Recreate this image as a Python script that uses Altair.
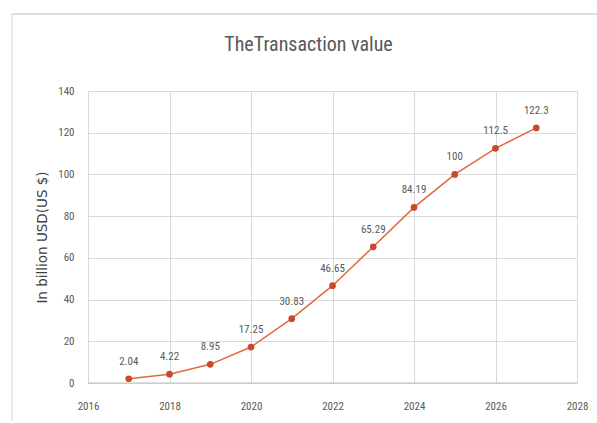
import altair as alt
import pandas as pd

years = [2017, 2018, 2019, 2020, 2021, 2022, 2023, 2024, 2025, 2026, 2027]
values = [2.04, 4.22, 8.95, 17.25, 30.83, 46.65, 65.29, 84.19, 100, 112.5, 122.3]
labels = ["2.04", "4.22", "8.95", "17.25", "30.83", "46.65", "65.29", "84.19", "100", "112.5", "122.3"]

df = pd.DataFrame({"year": years, "value": values, "label": labels})

FONT = "Liberation Sans Narrow, Roboto Condensed, Liberation Sans, sans-serif"

x = alt.X("year:Q", scale=alt.Scale(domain=[2016, 2028], nice=False, zero=False),
          axis=alt.Axis(values=[2016, 2018, 2020, 2022, 2024, 2026, 2028], format="d",
                        title=None, ticks=False, domain=False, labelPadding=17,
                        labelFont=FONT, labelFontSize=11, labelColor="#595959",
                        gridColor="#d9d9d9", labelFlush=False))
y = alt.Y("value:Q", scale=alt.Scale(domain=[0, 140], nice=False),
          axis=alt.Axis(values=[0, 20, 40, 60, 80, 100, 120, 140], title="In billion USD(US $)",
                        ticks=False, domain=False, labelPadding=14,
                        labelFont=FONT, labelFontSize=11, labelColor="#595959",
                        titleFont="DejaVu Sans", titleFontSize=13.5, titleFontWeight="normal",
                        titleColor="#404040", titleX=-46, titleY=146, titleAngle=270,
                        titleBaseline="middle", titleAlign="center",
                        gridColor="#d9d9d9"))

base = alt.Chart(df).encode(x=x, y=y)

line = base.mark_line(color="#E2693C", strokeWidth=1.5)
pts = base.mark_circle(color="#C84A2A", size=45, opacity=1)
txt = base.mark_text(dy=-17, font=FONT, fontSize=11, color="#595959").encode(text="label:N")

zero_line = alt.Chart(pd.DataFrame({"v": [0]})).mark_rule(color="#bfbfbf", strokeWidth=1).encode(y="v:Q")

border = alt.Chart(pd.DataFrame({"v": [0]})).mark_rule(color="#d0d0d0", strokeWidth=1.5).encode(
    x=alt.value(-76), x2=alt.value(520), y=alt.value(-77))
border2 = alt.Chart(pd.DataFrame({"v": [0]})).mark_rule(color="#e0e0e0", strokeWidth=1.5).encode(
    x=alt.value(-76), y=alt.value(-77), y2=alt.value(330))

chart = alt.layer(border, border2, zero_line, line, pts, txt).properties(
    width=489, height=292,
    title=alt.TitleParams("TheTransaction value", font=FONT, fontSize=20, fontWeight="normal",
                          color="#595959", offset=-42, dx=-24, anchor="middle", frame="group"),
    padding={"left": 88, "top": 91, "right": 20, "bottom": 40},
    autosize=alt.AutoSizeParams(type="none"),
).configure_view(stroke=None).configure(background="white")

chart.save("out.html", embed_options={"renderer": "svg", "actions": False})
